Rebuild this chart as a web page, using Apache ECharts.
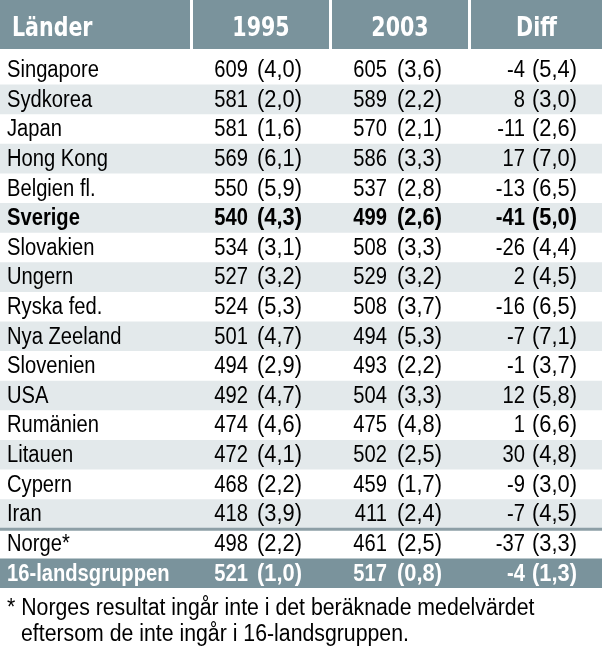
<!DOCTYPE html>
<html>
<head>
<meta charset="utf-8">
<script src="https://cdn.jsdelivr.net/npm/echarts@6/dist/echarts.min.js"></script>
<style>
  html, body { margin: 0; padding: 0; background: #fff; }
  #myChart { width: 602px; height: 648px; }
</style>
</head>
<body>
<div id="myChart"></div>
<script>
// tabelldata
const headers = ['Länder', '1995', '2003', 'Diff']
const countries = ['Singapore', 'Sydkorea', 'Japan', 'Hong Kong', 'Belgien fl.', 'Sverige', 'Slovakien', 'Ungern',
  'Ryska fed.', 'Nya Zeeland', 'Slovenien', 'USA', 'Rumänien', 'Litauen', 'Cypern', 'Iran', 'Norge*', '16-landsgruppen']
const score1995 = [609, 581, 581, 569, 550, 540, 534, 527, 524, 501, 494, 492, 474, 472, 468, 418, 498, 521]
const se1995 = [4.0, 2.0, 1.6, 6.1, 5.9, 4.3, 3.1, 3.2, 5.3, 4.7, 2.9, 4.7, 4.6, 4.1, 2.2, 3.9, 2.2, 1.0]
const score2003 = [605, 589, 570, 586, 537, 499, 508, 529, 508, 494, 493, 504, 475, 502, 459, 411, 461, 517]
const se2003 = [3.6, 2.2, 2.1, 3.3, 2.8, 2.6, 3.3, 3.2, 3.7, 5.3, 2.2, 3.3, 4.8, 2.5, 1.7, 2.4, 2.5, 0.8]
const diff = [-4, 8, -11, 17, -13, -41, -26, 2, -16, -7, -1, 12, 1, 30, -9, -7, -37, -4]
const seDiff = [5.4, 3.0, 2.6, 7.0, 6.5, 5.0, 4.4, 4.5, 6.5, 7.1, 3.7, 5.8, 6.6, 4.8, 3.0, 4.5, 3.3, 1.3]
const footnote = ['* Norges resultat ingår inte i det beräknade medelvärdet', 'eftersom de inte ingår i 16-landsgruppen.']

const boldRow = 5        // Sverige
const totalRow = 17      // 16-landsgruppen
const lineBeforeRow = 16 // Norge*

// layout
const headColor = '#7a939c'
const stripeColor = '#e3e9eb'
const lineColor = '#8d9fa6'
const headCells = [[0, 190], [193, 329], [332, 468], [471, 602]]
const nameX = 7
const numRight = [248, 387, 525]
const parRight = [302, 442, 577]
const regFont = '23px "Liberation Sans", Arial, sans-serif'
const boldFont = 'bold 23px "Liberation Sans", Arial, sans-serif'
const headFont = 'bold 26px "DejaVu Sans Condensed", "DejaVu Sans", sans-serif'
const noteFont = '23px "Liberation Sans", Arial, sans-serif'
const bodySX = 0.877   // smalare typsnitt
const parSX = 0.95
const headSX = 0.88
const noteSX = 0.925

const fmt = v => '(' + v.toFixed(1).replace('.', ',') + ')'
const cols = [[score1995, se1995], [score2003, se2003], [diff, seDiff]]

function txt(text, x, y, align, font, fill, sx) {
  return {
    type: 'text', x, y, scaleX: sx,
    style: { text, x: 0, y: 0, align, textAlign: align, verticalAlign: 'middle', textVerticalAlign: 'middle', font, fill }
  }
}

function renderItem(params, api) {
  const i = api.value(0)
  const pt = api.coord([0, i])
  const h = api.size([0, 1])[1]
  const top = pt[1] - h / 2
  const cy = pt[1] + 1
  const children = []
  if (i === totalRow) {
    children.push({ type: 'rect', shape: { x: 0, y: top, width: 602, height: h }, style: { fill: headColor } })
  } else if (i % 2 === 1 && i < lineBeforeRow) {
    children.push({ type: 'rect', shape: { x: 0, y: top, width: 602, height: h }, style: { fill: stripeColor } })
  }
  if (i === lineBeforeRow) {
    children.push({ type: 'rect', shape: { x: 0, y: top - 1, width: 602, height: 3 }, style: { fill: lineColor } })
  }
  const bold = i === boldRow || i === totalRow
  const font = bold ? boldFont : regFont
  const fill = i === totalRow ? '#fff' : '#000'
  children.push(txt(countries[i], nameX, cy, 'left', font, fill, bodySX))
  cols.forEach((c, k) => {
    children.push(txt(String(c[0][i]), api.coord([numRight[k], i])[0], cy, 'right', font, fill, bodySX))
    children.push(txt(fmt(c[1][i]), api.coord([parRight[k], i])[0], cy, 'right', font, fill, parSX))
  })
  return { type: 'group', children }
}

const graphics = []
headCells.forEach((c, k) => {
  graphics.push({ type: 'rect', shape: { x: c[0], y: 0, width: c[1] - c[0], height: 49 }, style: { fill: headColor } })
  const left = k === 0
  graphics.push(txt(headers[k], left ? 12 : (c[0] + c[1]) / 2, 29, left ? 'left' : 'center', headFont, '#fff', headSX))
})
footnote.forEach((t, k) => {
  graphics.push(txt(t, k === 0 ? 7 : 21, 609 + k * 26, 'left', noteFont, '#000', noteSX))
})

const myChart = echarts.init(document.getElementById('myChart'))
const option = {
  animation: false,
  grid: { left: 0, right: 0, top: 55, height: 533 },
  xAxis: { type: 'value', min: 0, max: 602, show: false },
  yAxis: { type: 'category', data: countries, inverse: true, show: false },
  graphic: graphics,
  series: [{
    type: 'custom',
    renderItem,
    encode: { y: 0 },
    data: countries.map((c, i) => [i])
  }]
}
myChart.setOption(option)
</script>
</body>
</html>
